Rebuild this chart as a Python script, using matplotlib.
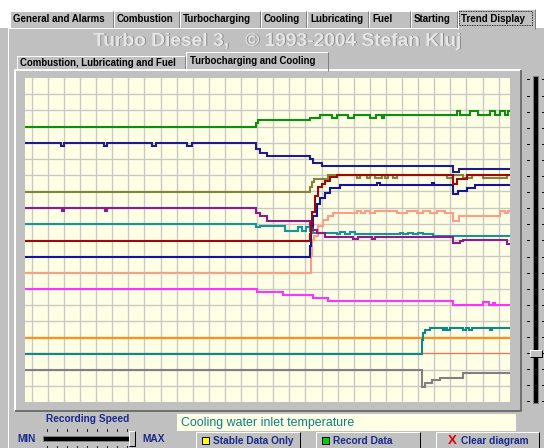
import numpy as np
import matplotlib
matplotlib.use("Agg")
import matplotlib.pyplot as plt
from matplotlib.patches import Rectangle

plt.rcParams['font.family'] = ['Liberation Sans', 'DejaVu Sans']

W, H = 544, 448
GREY = "#c0c0c0"
PAPER = "#ffffe6"
NAVY = "#1a2a8a"

# ---- trend traces: x = sample index, y = % of scale (step traces) ----
green_x = [0, 231, 233, 285, 295, 307, 312, 323, 329, 345, 351, 357, 359, 432, 435, 445, 453, 465, 470, 475, 480, 483]
green_y = [84.8, 86.1, 87.0, 87.8, 88.5, 87.8, 88.5, 87.8, 88.5, 87.8, 88.5, 87.8, 88.5, 89.9, 88.5, 89.9, 88.5, 89.9, 88.5, 89.9, 88.5, 89.9]

navy_x = [0, 36, 39, 79, 82, 127, 131, 162, 167, 231, 235, 242, 285, 288, 297, 428, 434]
navy_y = [79.8, 78.9, 79.8, 78.9, 79.8, 78.9, 79.8, 78.9, 79.8, 78.0, 77.0, 75.8, 74.9, 73.9, 72.8, 71.1, 72.0]

olive_x = [0, 285, 287, 289, 303, 332, 335, 342, 345, 350, 357, 360, 363, 368, 372, 422, 428, 438, 447, 458, 482]
olive_y = [64.9, 66.5, 68.0, 68.7, 70.0, 69.0, 70.0, 69.0, 70.0, 69.0, 70.0, 69.0, 70.0, 69.0, 70.0, 69.0, 70.0, 69.0, 70.0, 69.0, 70.0]

maroon_x = [0, 285, 286, 287, 290, 293, 297, 300, 305, 312, 428, 432, 442]
maroon_y = [49.8, 52.0, 55.0, 58.5, 63.6, 66.3, 67.2, 68.2, 69.3, 70.0, 67.2, 68.7, 70.0]

blue_x = [0, 285, 286, 288, 292, 295, 300, 305, 315, 352, 355, 407, 409, 428, 433, 442, 450]
blue_y = [44.9, 48.0, 54.3, 57.4, 61.0, 63.1, 64.6, 65.9, 67.0, 67.7, 67.0, 67.7, 67.0, 64.1, 65.1, 65.9, 67.0]

purple_x = [0, 37, 39, 80, 82, 231, 235, 242, 285, 288, 292, 300, 328, 333, 347, 350, 428, 435, 438, 482]
purple_y = [59.8, 59.1, 59.8, 59.1, 59.8, 58.4, 57.4, 55.8, 54.5, 53.0, 52.2, 51.0, 50.2, 51.0, 50.2, 51.0, 49.1, 49.6, 49.9, 48.9]

teal_x = [0, 231, 235, 260, 273, 277, 281, 285, 288, 312, 315, 320, 325, 330, 375, 378, 383, 388, 393, 398, 408]
teal_y = [55.0, 54.0, 54.3, 52.7, 53.9, 52.7, 53.9, 52.7, 52.2, 51.7, 52.4, 51.7, 52.4, 51.7, 52.2, 51.7, 52.2, 51.7, 52.2, 51.7, 51.2]

salmon_x = [0, 286, 287, 289, 293, 298, 303, 308, 332, 336, 340, 345, 350, 372, 382, 392, 398, 405, 412, 420, 428, 434, 475, 480, 483]
salmon_y = [39.9, 45.0, 50.0, 51.2, 54.3, 56.3, 57.4, 58.2, 58.9, 58.2, 58.9, 58.2, 58.9, 58.2, 58.9, 58.2, 58.9, 58.2, 58.9, 58.2, 55.8, 57.4, 58.9, 58.2, 58.9]

magenta_x = [0, 232, 258, 288, 303, 428, 458, 464, 468, 470]
magenta_y = [35.0, 34.0, 32.9, 32.1, 31.1, 29.8, 30.9, 29.8, 30.5, 29.8]

orange_x = [0]
orange_y = [19.8]

tomato_x = [0]
tomato_y = [15.1]

teal2_x = [0, 397, 398, 400, 405, 418, 420, 422, 425, 438, 441, 444, 447, 465, 467]
teal2_y = [14.9, 19.2, 21.3, 22.3, 22.8, 22.3, 22.8, 22.3, 22.8, 22.3, 22.8, 22.3, 22.8, 22.3, 22.8]

gray_x = [0, 397, 400, 407, 415, 438]
gray_y = [9.9, 4.7, 5.8, 6.8, 7.3, 8.9]

N_SAMPLES = 485

# drawn bottom to top
traces = [
    (orange_x, orange_y, "#ff9020", 1.6),
    (gray_x, gray_y, "#808080", 1.5),
    (tomato_x, tomato_y, "#ff6a4a", 0.8),
    (teal2_x, teal2_y, "#0a8a8a", 1.5),
    (magenta_x, magenta_y, "#ff33ff", 1.5),
    (salmon_x, salmon_y, "#ff9c84", 1.5),
    (teal_x, teal_y, "#159595", 1.5),
    (purple_x, purple_y, "#8e1a8e", 1.5),
    (blue_x, blue_y, "#14149a", 1.5),
    (olive_x, olive_y, "#85853a", 1.5),
    (maroon_x, maroon_y, "#990a0a", 1.5),
    (navy_x, navy_y, "#1c1c8c", 1.5),
    (green_x, green_y, "#0a900a", 1.5),
]

tab_labels = ["General and Alarms", "Combustion", "Turbocharging", "Cooling",
              "Lubricating", "Fuel", "Starting", "Trend Display"]
tab_edges = [9, 113, 179, 260, 306, 368, 410, 457, 535]
sub_labels = ["Combustion, Lubricating and Fuel", "Turbocharging and Cooling"]
sub_edges = [16, 185, 328]


def bevel(ax, x0, y0, x1, y1, face=GREY, light="white", dark="#808080", lw=0.72, bottom=True):
    ax.add_patch(Rectangle((x0, y0), x1 - x0, y1 - y0, facecolor=face, edgecolor="none"))
    ax.plot([x0, x0, x1], [y1, y0, y0], color=light, lw=lw, solid_capstyle="butt")
    if bottom:
        ax.plot([x0, x1, x1], [y1, y1, y0], color=dark, lw=lw, solid_capstyle="butt")
    else:
        ax.plot([x1, x1], [y1, y0], color=dark, lw=lw, solid_capstyle="butt")


fig = plt.figure(figsize=(W / 100, H / 100), dpi=100, facecolor=GREY)
ui = fig.add_axes([0, 0, 1, 1])
ui.set_xlim(0, W); ui.set_ylim(H, 0); ui.axis("off")

# top strip + main tabs
ui.add_patch(Rectangle((0, 0), W, 28.5, facecolor="white", edgecolor="none"))
for i, lab in enumerate(tab_labels):
    x0, x1 = tab_edges[i], tab_edges[i + 1]
    active = lab == "Trend Display"
    y0 = 9.5 if active else 11.5
    bevel(ui, x0 + 0.5, y0, x1 - 0.5, 29 if active else 28.5, bottom=False)
    ui.text(x0 + 4, 19.5 if not active else 18.5, lab, fontsize=7.0, fontweight="bold",
            va="center", ha="left", color="black")
    if active:
        ui.add_patch(Rectangle((x0 + 2, 11.5), x1 - x0 - 5, 14, facecolor="none",
                               edgecolor="black", lw=0.6, linestyle=(0, (1, 1))))
ui.plot([7.5, 457], [28.5, 28.5], color="white", lw=0.72)
ui.plot([7.5, 7.5], [28.5, H], color="white", lw=0.72)

# embossed title
title = "Turbo Diesel 3,   \u00a9 1993-2004 Stefan Kluj"
ui.text(278, 42, title, fontsize=13.8, fontweight="bold", ha="center", va="center", color="#8a8a8a")
ui.text(277, 41, title, fontsize=13.8, fontweight="bold", ha="center", va="center", color="#e6e6e6")

# sub tabs
bevel(ui, sub_edges[0] + 0.5, 56.5, sub_edges[1], 70.5, bottom=False)
ui.text(sub_edges[0] + 4, 63, sub_labels[0], fontsize=6.9, fontweight="bold", va="center", color="black")
# panel
bevel(ui, 14.5, 70.5, 520.5, 411, dark="#6e6e6e", lw=1.4)
bevel(ui, sub_edges[1] + 0.5, 52.5, sub_edges[2], 71.5, bottom=False)
ui.text(sub_edges[1] + 5, 61.5, sub_labels[1], fontsize=6.9, fontweight="bold", va="center", color="black")

# right vertical slider
for k in range(21):
    yy = 79.5 + 16.1 * k
    ui.plot([526.5, 529], [yy, yy], color="black", lw=0.7)
    ui.plot([541.5, 544], [yy, yy], color="black", lw=0.7)
ui.add_patch(Rectangle((533, 76), 5, 327, facecolor="black", edgecolor="#808080", lw=0.7))
bevel(ui, 529.5, 350, 541.5, 357, dark="black")

# bottom controls
ui.text(88, 419, "Recording Speed", fontsize=7.3, fontweight="bold", ha="center", va="center", color=NAVY)
ui.text(27, 438.5, "MIN", fontsize=7.3, fontweight="bold", ha="center", va="center", color=NAVY)
ui.text(154, 438.5, "MAX", fontsize=7.3, fontweight="bold", ha="center", va="center", color=NAVY)
for k in range(9):
    xx = 46.5 + 10.1 * k
    ui.plot([xx, xx], [429, 431], color="black", lw=0.6)
    ui.plot([xx, xx], [446, 448], color="black", lw=0.6)
ui.add_patch(Rectangle((43, 436), 88, 5, facecolor="black", edgecolor="#808080", lw=0.7))
bevel(ui, 128.5, 431.5, 134.5, 446, dark="black")

ui.add_patch(Rectangle((177, 414), 339, 17, facecolor=PAPER, edgecolor="none"))
ui.text(181, 423, "Cooling water inlet temperature", fontsize=8.9, ha="left", va="center", color="#0a8080")

buttons = [(195, 300, "Stable Data Only", "#ffff00"), (315, 420, "Record Data", "#00d000"),
           (435, 539, "Clear diagram", None)]
for x0, x1, lab, sq in buttons:
    bevel(ui, x0 + 0.5, 432.5, x1 - 0.5, 452, dark="black")
    if sq:
        ui.add_patch(Rectangle((x0 + 6.5, 437.5), 7, 7, facecolor=sq, edgecolor="black", lw=0.7))
    else:
        ui.text(x0 + 17, 441.5, "X", fontsize=9.5, fontweight="bold", color="#e00000", ha="center", va="center")
    ui.text(x0 + 18 if sq else x0 + 26, 441.5, lab, fontsize=7.3, fontweight="bold", ha="left",
            va="center", color=NAVY)

# ---- trend diagram ----
ax = fig.add_axes([25 / W, (H - 402) / H, 485 / W, 324 / H])
ax.set_facecolor(PAPER)
ax.set_xlim(0, N_SAMPLES)
ax.set_ylim(0, 100)
ax.set_xticks(np.arange(6.7, N_SAMPLES, 16.1))
ax.set_yticks(np.arange(5, 100, 5))
ax.grid(True, color="#c8c8c4", lw=1.0)
ax.tick_params(length=0, labelbottom=False, labelleft=False)
for s in ax.spines.values():
    s.set_visible(False)
ax.set_axisbelow(True)

for xs, ys, col, lw in traces:
    xs = list(xs) + [N_SAMPLES]
    ys = list(ys) + [ys[-1]]
    ax.plot(xs, ys, drawstyle="steps-post", color=col, lw=lw, solid_joinstyle="miter")

fig.savefig("out.png", dpi=100, facecolor=GREY)
